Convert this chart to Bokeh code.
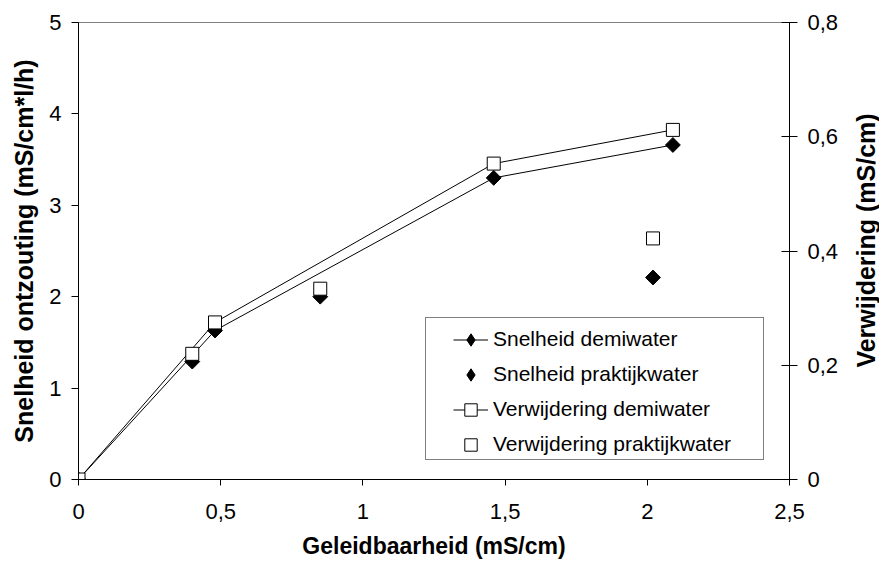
import math
from bokeh.plotting import figure
from bokeh.layouts import row
from bokeh.models import Range1d, LinearAxis, FixedTicker, Legend, LegendItem
from bokeh.embed import file_html
from bokeh.resources import INLINE

# ---- data ----
x_demi = [0.0, 0.48, 1.46, 2.09]
snelheid_demi = [0.0, 1.63, 3.30, 3.66]
verwijdering_demi = [0.0, 0.275, 0.553, 0.612]

x_prak = [0.40, 0.85, 2.02]
snelheid_prak = [1.29, 2.00, 2.21]
verwijdering_prak = [0.22, 0.334, 0.422]

x_ticks = [0, 0.5, 1, 1.5, 2, 2.5]
x_tick_labels = ["0", "0,5", "1", "1,5", "2", "2,5"]
y_ticks = [0, 1, 2, 3, 4, 5]
y_tick_labels = ["0", "1", "2", "3", "4", "5"]
y2_ticks = [0, 0.2, 0.4, 0.6, 0.8]
y2_tick_labels = ["0", "0,2", "0,4", "0,6", "0,8"]

series_names = ["Snelheid demiwater", "Snelheid praktijkwater",
                "Verwijdering demiwater", "Verwijdering praktijkwater"]
x_title = "Geleidbaarheid (mS/cm)"
y_title = "Snelheid ontzouting (mS/cm*l/h)"
y2_title = "Verwijdering (mS/cm)"

FONT = "Liberation Sans"
TICK_SIZE = "22px"

p = figure(frame_width=711, frame_height=457,
           min_border_left=78, min_border_right=59, min_border_top=22, min_border_bottom=86,
           x_range=Range1d(0, 2.5), y_range=Range1d(0, 5),
           output_backend="svg", toolbar_location=None)
p.extra_y_ranges = {"y2": Range1d(0, 0.8)}

p.xgrid.visible = False
p.ygrid.visible = False
p.outline_line_color = "#808080"
p.outline_line_width = 1
p.background_fill_color = "white"
p.border_fill_color = "white"

def style_axis(ax, ticks, labels, title=None, title_size="24px"):
    ax.ticker = FixedTicker(ticks=ticks)
    ax.major_label_overrides = {t: l for t, l in zip(ticks, labels)}
    ax.minor_tick_line_color = None
    ax.axis_line_color = "black"
    ax.major_tick_line_color = "black"
    ax.major_label_text_font = FONT
    ax.major_label_text_font_size = TICK_SIZE
    ax.major_label_text_color = "black"
    if title:
        ax.axis_label = title
        ax.axis_label_text_font = FONT
        ax.axis_label_text_font_size = title_size
        ax.axis_label_text_font_style = "bold"
        ax.axis_label_text_color = "black"

xa = p.xaxis[0]
style_axis(xa, x_ticks, x_tick_labels, x_title, "23px")
xa.major_tick_in = 0
xa.major_tick_out = 6
xa.major_label_standoff = 18
xa.axis_label_standoff = 11

ya = p.yaxis[0]
style_axis(ya, y_ticks, y_tick_labels, y_title, "25px")
ya.major_tick_in = 0
ya.major_tick_out = 7
ya.major_label_standoff = 10
ya.axis_label_standoff = 8

ya2 = LinearAxis(y_range_name="y2")
style_axis(ya2, y2_ticks, y2_tick_labels)
ya2.major_tick_in = 8
ya2.major_tick_out = 8
ya2.major_label_standoff = 10
p.add_layout(ya2, "right")

# ---- series ----
l1 = p.line(x_demi, snelheid_demi, line_color="black", line_width=1)
m1 = p.scatter(x_demi, snelheid_demi, marker="square", angle=math.pi / 4, size=10.5,
               fill_color="black", line_color="black")
m2 = p.scatter(x_prak, snelheid_prak, marker="square", angle=math.pi / 4, size=10.5,
               fill_color="black", line_color="black")
l3 = p.line(x_demi, verwijdering_demi, y_range_name="y2", line_color="black", line_width=1)
m3 = p.scatter(x_demi, verwijdering_demi, y_range_name="y2", marker="square", size=13,
               fill_color="white", line_color="black", line_width=1)
m4 = p.scatter(x_prak, verwijdering_prak, y_range_name="y2", marker="square", size=13,
               fill_color="white", line_color="black", line_width=1)

# hidden diamond renderers, used only for the legend swatches (legend ignores marker angle)
k1 = p.scatter(x_demi, snelheid_demi, marker="diamond", fill_color="black",
               line_color="black", visible=False)
k2 = p.scatter(x_prak, snelheid_prak, marker="diamond", fill_color="black",
               line_color="black", visible=False)

# ---- legend frame ----
dummy = p.scatter(x=[], y=[], size=1, fill_alpha=0, line_alpha=0)
frame_legend = Legend(items=[LegendItem(label=" ", renderers=[dummy])],
                      location=(347, 19), padding=0, margin=0, spacing=0,
                      glyph_width=1, glyph_height=141, label_width=336, label_height=141,
                      label_standoff=0, border_line_color="black", border_line_width=1,
                      background_fill_color="white", background_fill_alpha=1,
                      label_text_font_size="1px")
p.add_layout(frame_legend, "center")

legend = Legend(items=[LegendItem(label=series_names[0], renderers=[l1, k1]),
                       LegendItem(label=series_names[1], renderers=[k2]),
                       LegendItem(label=series_names[2], renderers=[l3, m3]),
                       LegendItem(label=series_names[3], renderers=[m4])],
                location=(375, 19.5), padding=0, margin=0, spacing=4,
                glyph_width=35, glyph_height=31, label_height=31, label_standoff=5,
                border_line_alpha=0, background_fill_alpha=0,
                label_text_font=FONT, label_text_font_size="21px", label_text_color="black")
p.add_layout(legend, "center")

# ---- narrow strip carrying the right-hand axis title (reads bottom-to-top) ----
t = figure(frame_width=1, frame_height=436,
           min_border_left=30, min_border_right=0, min_border_top=22, min_border_bottom=107,
           x_range=Range1d(0, 1), y_range=Range1d(0, 1),
           x_axis_location=None, y_axis_location="left",
           output_backend="svg", toolbar_location=None)
t.grid.visible = False
t.outline_line_color = None
t.background_fill_color = "white"
t.border_fill_color = "white"
ty = t.yaxis[0]
ty.ticker = FixedTicker(ticks=[])
ty.axis_line_color = None
ty.major_tick_line_color = None
ty.minor_tick_line_color = None
ty.major_tick_in = 0
ty.major_tick_out = 0
ty.minor_tick_in = 0
ty.minor_tick_out = 0
ty.major_label_standoff = 0
ty.axis_label = y2_title
ty.axis_label_standoff = 0
ty.axis_label_text_font = FONT
ty.axis_label_text_font_size = "25px"
ty.axis_label_text_font_style = "bold"
ty.axis_label_text_color = "black"

layout = row(p, t, spacing=0)
open("out.html", "w").write(file_html(layout, INLINE))
